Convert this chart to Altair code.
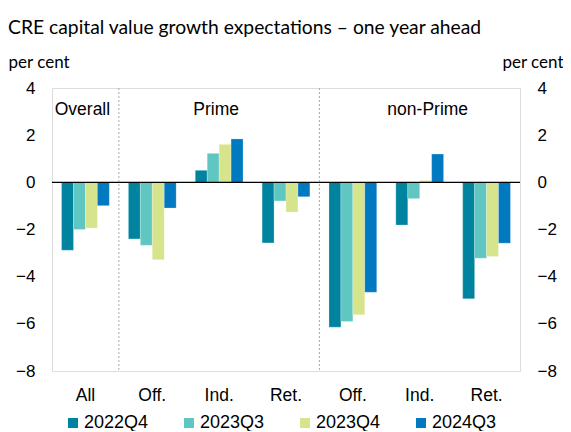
import altair as alt
import pandas as pd

keys = ["All", "P-Off", "P-Ind", "P-Ret", "N-Off", "N-Ind", "N-Ret"]
labels = ["All", "Off.", "Ind.", "Ret.", "Off.", "Ind.", "Ret."]
series = ["2022Q4", "2023Q3", "2023Q4", "2024Q3"]
colors = ["#00839F", "#60C6C1", "#D6E48B", "#0079C1"]

v_2022Q4 = [-2.88, -2.40, 0.51, -2.57, -6.14, -1.81, -4.94]
v_2023Q3 = [-2.00, -2.67, 1.23, -0.79, -5.90, -0.69, -3.22]
v_2023Q4 = [-1.94, -3.28, 1.61, -1.26, -5.62, 0.08, -3.14]
v_2024Q3 = [-0.99, -1.09, 1.84, -0.61, -4.66, 1.20, -2.58]

group_names = ["Overall", "Prime", "non-Prime"]
group_keys = ["All", "P-Ind", "N-Ind"]
group_y = [3.05, 3.05, 3.05]
separator_keys = ["P-Off", "N-Off"]

rows = []
for s, vals in zip(series, [v_2022Q4, v_2023Q3, v_2023Q4, v_2024Q3]):
    for k, v in zip(keys, vals):
        rows.append({"key": k, "series": s, "value": v})
df = pd.DataFrame(rows)

label_map = "{" + ",".join(f"'{k}':'{l}'" for k, l in zip(keys, labels)) + "}"
ydom = [-8, 4]
font = "Liberation Sans"

x_enc = alt.X(
    "key:N",
    sort=keys,
    scale=alt.Scale(domain=keys, paddingInner=0, paddingOuter=0),
    axis=alt.Axis(
        title=None, labelAngle=0, labelExpr=label_map + "[datum.value]",
        labelFont=font, labelFontSize=17.5, labelColor="black", labelPadding=15,
        domain=False, ticks=False,
    ),
)

bars = alt.Chart(df).mark_bar(stroke="#ffffff", strokeWidth=0.4, strokeOpacity=0.6).encode(
    x=x_enc,
    xOffset=alt.XOffset("series:N", sort=series,
                        scale=alt.Scale(paddingInner=0, paddingOuter=0.8)),
    y=alt.Y("value:Q", scale=alt.Scale(domain=ydom, nice=False, zero=False),
            axis=alt.Axis(orient="left", values=list(range(-8, 5, 2)), title="per cent",
                          titleAngle=0, titleAlign="left", titleBaseline="alphabetic",
                          titleX=-44, titleY=-21, titleFont="Lato", titleFontSize=17,
                          titleFontWeight="normal", titleColor="black",
                          labelFont=font, labelFontSize=17, labelColor="black",
                          labelPadding=17, domain=False, ticks=False, grid=False)),
    color=alt.Color("series:N", sort=series,
                    scale=alt.Scale(domain=series, range=colors),
                    legend=alt.Legend(title=None, orient="none", direction="horizontal",
                                      legendX=12, legendY=326, symbolType="square",
                                      symbolSize=100, symbolStrokeWidth=0,
                                      labelFont=font, labelFontSize=18, labelColor="black",
                                      labelOffset=2, columnPadding=31, padding=0)),
)

zero = alt.Chart(pd.DataFrame({"z": [0]})).mark_rule(color="black", strokeWidth=1.2).encode(
    y=alt.Y("z:Q", scale=alt.Scale(domain=ydom, nice=False, zero=False),
            axis=alt.Axis(orient="right", values=list(range(-8, 5, 2)), title="per cent",
                          titleAngle=0, titleAlign="right", titleBaseline="alphabetic",
                          titleX=43, titleY=-21, titleFont="Lato", titleFontSize=17,
                          titleFontWeight="normal", titleColor="black",
                          labelFont=font, labelFontSize=17, labelColor="black",
                          labelPadding=17, domain=False, ticks=False, grid=False)),
)

seps = alt.Chart(pd.DataFrame({"key": separator_keys})).mark_rule(
    color="#aaaaaa", strokeDash=[2, 2], strokeWidth=1
).encode(x=alt.X("key:N", sort=keys, bandPosition=0))

gdf = pd.DataFrame({"key": group_keys, "name": group_names, "y": group_y})


def glayer(names, dx):
    return alt.Chart(gdf[gdf["name"].isin(names)]).mark_text(
        font=font, fontSize=17.5, color="black", baseline="middle", dx=dx
    ).encode(
        x=alt.X("key:N", sort=keys),
        y=alt.Y("y:Q", scale=alt.Scale(domain=ydom, nice=False, zero=False), axis=None),
        text="name:N",
    )


g1 = glayer(["Overall", "Prime"], -3)
g2 = glayer(["non-Prime"], 8)

chart = alt.layer(bars, zero, seps, g1, g2).resolve_scale(y="independent").properties(
    width=468, height=283,
    title=alt.TitleParams("CRE capital value growth expectations – one year ahead",
                          anchor="start", frame="group", dx=-44, offset=15,
                          font="Lato", fontSize=19.3, fontWeight="normal", color="black"),
    autosize=alt.AutoSizeParams(type="none"),
    padding={"left": 44, "top": 80, "right": 43, "bottom": 60},
).configure_view(stroke="black", strokeWidth=1).configure(background="white")

chart.save("out.html", embed_options={"renderer": "svg", "actions": False})
